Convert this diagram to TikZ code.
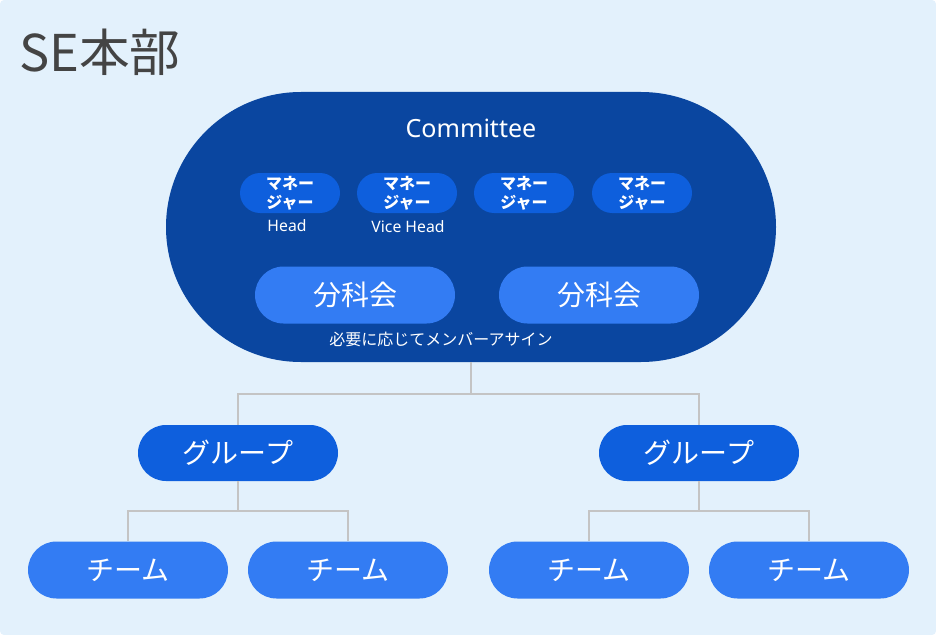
\documentclass[tikz,border=0pt]{standalone}
\usepackage{fontspec}
\setmainfont{Noto Sans}
\newfontfamily\jp{Noto Sans CJK JP}
\definecolor{bgc}{HTML}{E3F1FC}
\definecolor{dark}{HTML}{0A46A0}
\definecolor{mid}{HTML}{0E5FDD}
\definecolor{light}{HTML}{337CF3}
\definecolor{linec}{HTML}{C4C4C4}
\definecolor{titlec}{HTML}{444444}
\begin{document}
\begin{tikzpicture}[x=0.75pt,y=-0.75pt,
  pill/.style={rounded corners=#1, inner sep=0pt, text=white, align=center},
  mgr/.style={pill=20*0.75pt, fill=mid, minimum width=100*0.75pt, minimum height=40*0.75pt, font=\jp\fontsize{12}{14.5}\selectfont\bfseries},
  bunka/.style={pill=28.5*0.75pt, fill=light, minimum width=200*0.75pt, minimum height=57*0.75pt, font=\jp\fontsize{21}{24}\selectfont},
  grp/.style={pill=28*0.75pt, fill=mid, minimum width=200*0.75pt, minimum height=56*0.75pt, font=\jp\fontsize{21}{24}\selectfont},
  team/.style={pill=28.5*0.75pt, fill=light, minimum width=200*0.75pt, minimum height=57*0.75pt, font=\jp\fontsize{21}{24}\selectfont},
  conn/.style={draw=linec, line width=1.5pt},
  small/.style={text=white, inner sep=0pt, font=\fontsize{11.8}{13}\selectfont}
]
\useasboundingbox (0,0) rectangle (936,635);
\fill[bgc, rounded corners=3pt] (0,0) rectangle (936,635);
\node[anchor=west, text=titlec, font=\jp\fontsize{38}{40}\selectfont, inner sep=0pt] (title) at (19,52) {SE本部};
% committee
\node[fill=dark, rounded corners=135*0.75pt, minimum width=610*0.75pt, minimum height=270*0.75pt, inner sep=0pt] (comm) at (471,227) {};
\node[text=white, font=\fontsize{18.8}{20}\selectfont, inner sep=0pt] (commt) at (471,128) {Committee};
\node[mgr] (m1) at (290,193) {マネー\\ジャー};
\node[mgr] (m2) at (407,193) {マネー\\ジャー};
\node[mgr] (m3) at (524,193) {マネー\\ジャー};
\node[mgr] (m4) at (642,193) {マネー\\ジャー};
\node[small] (h1) at (287,226) {Head};
\node[small] (h2) at (408,227) {Vice Head};
\node[bunka] (b1) at (355,295) {分科会};
\node[bunka] (b2) at (599,295) {分科会};
\node[text=white, inner sep=0pt, font=\jp\fontsize{12}{13}\selectfont] (assign) at (441,339) {必要に応じてメンバーアサイン};
% groups
\node[grp] (g1) at (238,453) {グループ};
\node[grp] (g2) at (699,453) {グループ};
\node[team] (t1) at (128,570) {チーム};
\node[team] (t2) at (348,570) {チーム};
\node[team] (t3) at (589,570) {チーム};
\node[team] (t4) at (809,570) {チーム};
% connectors
\coordinate (j0) at (471,394);
\coordinate (j1) at (238,511);
\coordinate (j2) at (699,511);
\draw[conn] (comm.south) -- (j0);
\draw[conn] (j0) -| (g1.north);
\draw[conn] (j0) -| (g2.north);
\draw[conn] (g1.south) -- (j1);
\draw[conn] (j1) -| (t1.north);
\draw[conn] (j1) -| (t2.north);
\draw[conn] (g2.south) -- (j2);
\draw[conn] (j2) -| (t3.north);
\draw[conn] (j2) -| (t4.north);
\end{tikzpicture}
\end{document}
